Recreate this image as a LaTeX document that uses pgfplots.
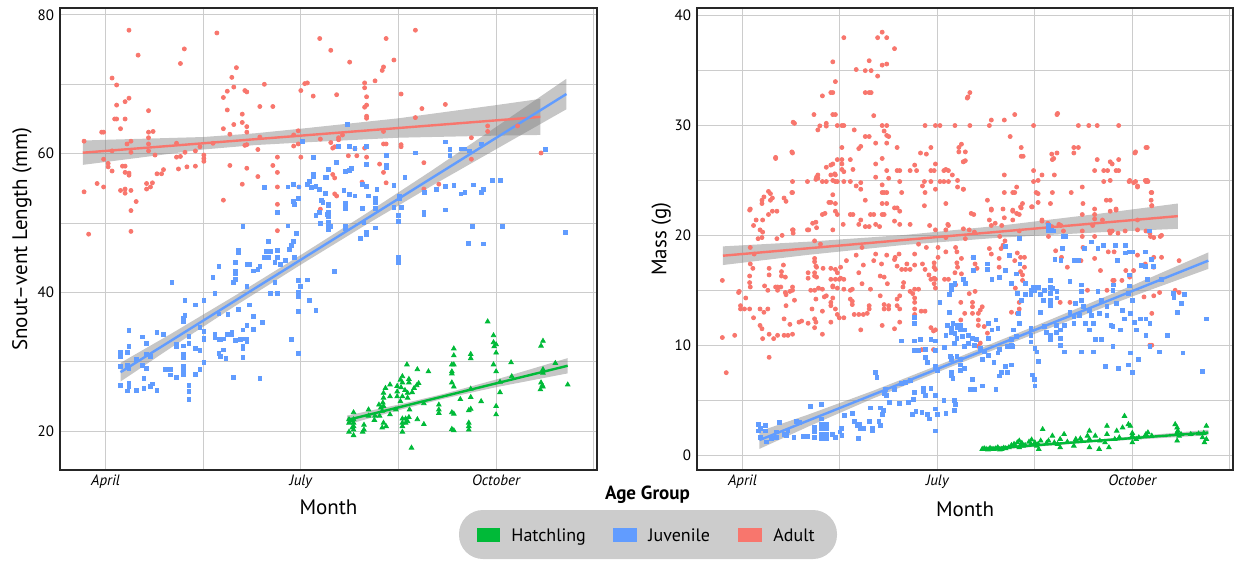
\documentclass[border=0pt]{standalone}
\usepackage{pgfplots}
\pgfplotsset{compat=1.18}
\usepackage{fontspec}
\setmainfont{PT Sans}
\definecolor{cAd}{HTML}{F8766D}
\definecolor{cJu}{HTML}{619CFF}
\definecolor{cHa}{HTML}{00BA38}
\pgfplotsset{
  myaxis/.style={
    scale only axis, anchor=south west,
    xmin=3.3, xmax=11.55,
    xtick={4,7,10}, xticklabels={April,July,October},
    minor xtick={5.5,8.5,11.5},
    grid=both,
    major grid style={gray!40, line width=0.5pt},
    minor grid style={gray!40, line width=0.5pt},
    tick style={draw=none},
    axis line style={line width=1pt, black!85},
    /pgf/number format/assume math mode=true,
    yticklabel style={font=\fontsize{7.5}{8.5}\selectfont, xshift=0.5pt},
    xticklabel style={font=\fontsize{7.5}{8.5}\selectfont\itshape, yshift=1pt},
    xlabel style={font=\fontsize{10.5}{12}\selectfont},
    ylabel style={font=\fontsize{10.5}{12}\selectfont},
    clip=true,
  },
  ad/.style={only marks, mark=*, mark size=1pt, color=cAd, mark options={draw=none, fill=cAd}},
  ju/.style={only marks, mark=square*, mark size=0.95pt, color=cJu, mark options={draw=none, fill=cJu}},
  ha/.style={only marks, mark=triangle*, mark size=1.3pt, color=cHa, mark options={draw=none, fill=cHa}},
  band/.style={fill=gray, fill opacity=0.45, draw=none},
}
\begin{document}
\begin{tikzpicture}
\path[use as bounding box] (0pt,0pt) rectangle (617.5pt,-280.5pt);
% ---------------- Left panel ----------------
\begin{axis}[myaxis, at={(30pt,-235pt)}, width=268.5pt, height=231pt,
  ymin=14.4, ymax=81,
  ytick={20,40,60,80}, minor ytick={30,50,70},
  xlabel={Month}, ylabel={Snout--vent Length (mm)},
  xlabel style={at={(axis description cs:0.5,-0.08)}, anchor=center},
  ylabel style={at={(axis description cs:-0.0708,0.5)}, anchor=center},
]
\addplot[ad] coordinates {
(4.36,77.8)(4.50,74.2)(5.21,75.1)(5.15,73.0)(4.10,70.9)(4.17,69.9)(4.36,68.0)(4.30,67.5)(4.17,67.0)(4.66,66.2)(4.14,65.0)(4.17,65.0)(4.30,65.0)(4.23,63.6)(3.94,63.1)(3.97,63.1)(4.66,63.1)(4.73,63.2)(3.67,61.8)(4.39,61.8)(4.33,61.4)(4.66,62.3)(4.66,61.4)(4.66,60.4)(5.09,61.5)(4.10,60.4)(4.39,60.2)(3.97,59.2)(4.76,59.8)(4.04,58.6)(4.04,58.1)(4.10,57.5)(4.26,58.2)(4.30,58.2)(4.36,57.2)(4.36,56.9)(4.30,57.3)(3.87,55.7)(3.97,55.2)(3.67,54.5)(4.23,54.7)(4.30,54.9)(4.39,54.7)(4.30,54.3)(4.47,53.1)(4.63,55.7)(4.72,55.8)(4.69,55.2)(4.63,54.9)(4.79,57.1)(4.86,57.1)(4.89,57.7)(5.09,59.5)(5.15,59.6)(5.22,60.2)(5.38,60.4)(5.51,59.8)(5.51,59.3)(5.51,58.9)(5.45,61.0)(5.12,57.8)(5.25,58.1)(5.38,58.2)(5.65,61.5)(5.71,77.4)(6.01,72.4)(5.94,71.0)(5.97,69.6)(5.87,69.0)(5.81,68.1)(5.87,66.3)(6.10,65.7)(6.10,64.5)(5.97,64.2)(6.17,63.9)(6.17,63.1)(5.81,63.6)(5.91,62.8)(6.14,69.1)(6.17,68.9)(6.44,70.0)(6.37,66.8)(6.57,66.8)(6.37,62.4)(6.14,61.2)(6.17,61.3)(6.34,60.6)(6.64,59.5)(6.57,58.3)(6.64,57.3)(5.91,58.3)(6.17,57.9)(6.34,56.7)(6.10,55.6)(6.64,55.2)(5.81,53.3)(6.64,52.7)(6.89,62.7)(6.96,63.3)(6.89,61.1)(6.96,61.4)(7.00,69.1)(7.06,70.1)(7.10,70.2)(7.19,68.3)(7.29,76.6)(7.00,59.5)(6.97,55.2)
(7.46,74.9)(7.75,73.2)(8.31,76.6)(8.76,77.8)(8.43,73.5)(8.27,72.5)(8.25,72.0)(8.14,70.5)(7.98,70.2)(7.98,69.5)(7.55,68.5)(8.01,68.2)(7.98,66.7)(8.01,67.0)(8.01,65.4)(8.01,65.1)(8.54,68.6)(8.86,66.5)(8.76,65.2)(9.22,67.1)(8.27,63.2)(7.30,62.1)(7.58,62.3)(7.58,62.0)(7.64,62.7)(7.46,61.6)(7.52,61.0)(7.49,60.8)(7.83,60.7)(7.98,60.8)(8.27,61.4)(8.31,61.4)(8.54,61.3)(8.54,61.0)(7.73,59.7)(7.86,59.7)(8.01,59.5)(8.21,58.5)(8.89,58.7)(7.49,57.0)(7.52,56.5)(8.27,57.3)(7.94,55.9)(8.31,55.8)(9.12,55.6)(8.89,54.9)(7.52,54.2)(7.55,53.9)(9.62,62.3)(9.87,64.0)(9.87,63.2)(10.33,64.0)(9.62,59.2)(10.69,60.1)
(4.39,51.8)(4.39,48.8)(3.74,48.4)(6.64,48.9)(7.30,52.0)
};
\addplot[ju] coordinates {
(7.03,61.8)(7.19,59.5)(7.42,57.7)(7.38,56.6)(7.19,57.0)(7.19,56.7)(7.13,56.0)(7.16,55.1)(7.10,55.6)(7.23,55.3)(7.29,54.8)(7.38,54.3)(6.44,55.1)(6.80,55.2)(6.89,55.6)(6.97,55.2)(6.89,53.1)(6.96,53.5)(7.42,52.7)(7.32,53.3)
(7.72,64.2)(7.58,61.1)(7.75,61.1)(7.83,60.8)(8.01,61.1)(8.31,59.7)(8.76,60.1)(9.22,61.7)(9.29,60.6)(9.29,59.7)(9.46,60.7)(9.52,60.7)(9.59,60.4)(9.78,61.4)(10.76,60.6)(7.55,58.7)(7.68,57.4)(7.75,57.6)(7.78,57.9)(8.01,58.4)(8.31,58.3)(8.31,58.0)(7.39,56.6)(7.94,55.6)(8.01,55.3)(8.17,54.8)(8.43,55.4)(8.60,56.6)(8.90,54.4)(9.08,54.9)(9.22,55.3)(9.35,55.4)(9.46,54.2)(9.52,54.4)(9.65,55.5)(9.78,54.4)(9.81,54.8)(9.94,56.1)(10.07,56.2)(7.66,54.7)(7.83,53.9)(7.75,54.1)(8.04,53.9)(8.14,53.6)(8.52,53.8)(8.52,53.5)(7.68,52.9)
(6.90,52.7)(7.34,53.0)(7.42,52.5)(7.42,51.5)(7.42,51.0)(7.29,51.5)(7.23,51.1)(7.30,50.0)(7.42,50.1)(7.45,49.5)(7.42,49.1)(6.11,49.5)(6.80,49.6)(6.93,48.5)(6.64,51.5)(6.50,47.3)(6.88,47.3)(6.85,46.8)(6.83,46.2)(6.04,46.0)(6.04,45.7)(6.64,46.1)(6.64,45.1)(6.47,45.9)(6.53,45.9)(6.44,45.1)(6.50,45.1)(6.60,44.3)(6.68,44.0)(6.76,44.6)(6.90,45.0)(6.00,44.3)(6.17,44.0)(6.21,44.0)(6.27,43.1)(6.34,43.3)(6.37,43.7)(6.00,43.0)(6.00,42.7)(5.74,43.8)(5.65,42.2)(5.97,41.4)(6.00,41.9)(6.17,40.9)(6.60,41.5)(6.96,41.7)(7.10,41.8)(6.99,40.9)(6.96,40.0)(6.96,39.4)(6.53,39.9)(6.64,39.9)(5.68,39.9)(5.02,41.5)(7.13,38.9)(7.23,37.4)(6.96,37.3)(6.04,37.5)(6.21,38.2)(6.27,36.6)(5.22,38.8)(5.38,38.2)(5.51,38.8)(5.74,36.9)(5.88,36.8)(5.20,36.3)(5.20,35.8)(5.22,36.7)(6.41,35.7)(6.17,35.2)(6.27,34.7)(6.11,34.6)(5.45,34.9)(5.51,34.4)(5.51,33.4)(5.51,33.2)(5.28,33.7)(5.28,32.7)(5.68,34.0)(5.68,33.5)(5.74,33.2)(5.81,33.3)(5.77,33.2)(5.87,34.0)(5.94,34.3)(5.94,34.0)(6.00,33.1)(6.07,33.2)(6.11,33.3)(6.17,33.3)(6.17,32.9)(6.11,32.2)(6.11,31.9)(5.81,31.7)(5.74,31.2)(5.77,30.8)(5.85,30.5)(6.11,30.6)(6.85,33.2)(6.96,31.2)(5.09,32.5)(5.09,32.2)(5.20,32.3)(5.38,31.9)(5.45,31.6)(5.20,31.1)(5.20,30.6)(5.51,29.9)(5.45,28.9)(5.20,29.4)(5.20,28.8)(5.20,28.1)(5.38,28.2)(5.28,26.6)(5.28,25.7)(5.28,24.6)(5.09,27.7)(4.99,28.9)(4.99,28.1)(4.92,28.9)(5.97,27.7)(6.37,27.6)(4.79,34.2)(4.89,34.0)(4.56,33.6)(4.63,32.6)(4.36,34.5)(4.36,32.2)(4.23,31.4)(4.23,30.7)(4.33,31.4)(4.47,30.3)(4.63,31.1)(4.69,30.8)(4.66,31.0)(4.56,29.5)(4.63,29.1)(4.23,29.3)(4.33,29.5)(4.36,29.1)(4.23,26.6)(4.36,26.9)(4.36,26.5)(4.59,27.6)(4.47,25.9)(4.33,25.8)(4.59,26.2)(4.69,26.4)(4.72,26.8)(4.79,25.9)
(7.41,51.3)(7.42,50.1)(7.42,49.4)(7.69,52.7)(7.69,52.1)(7.95,52.1)(8.14,52.1)(8.14,53.0)(8.43,52.2)(8.50,51.1)(8.50,50.2)(8.55,52.2)(8.89,51.6)(8.89,51.3)(9.22,51.9)(9.64,49.5)(10.10,49.5)(11.07,48.7)(9.58,47.1)(9.80,47.0)(8.50,45.0)(8.50,44.3)(7.52,43.0)(7.92,47.8)(8.01,48.7)(8.01,48.4)(8.14,49.3)(7.97,50.1)(7.69,49.5)(7.69,49.2)
};
\addplot[ha] coordinates {
(9.87,35.8)(9.96,33.8)(9.96,32.8)(10.00,32.5)(9.97,32.2)(10.00,31.3)(9.96,29.6)(10.00,28.6)(10.69,32.3)(10.72,33.0)(10.23,29.9)(10.91,29.8)(10.72,28.9)(10.72,28.4)(10.69,27.0)(10.71,26.6)(10.72,26.4)(10.68,26.0)(11.10,26.7)(10.06,27.1)(10.06,25.6)(10.24,27.9)(10.00,23.6)(10.00,22.4)(9.35,31.9)(9.35,30.9)(9.32,29.6)(9.35,29.6)(9.32,28.6)(9.32,28.3)(9.32,27.0)(9.35,26.4)(9.61,31.1)(9.61,30.5)(9.61,26.1)(9.61,24.9)(9.45,24.6)(9.77,24.3)(9.58,23.0)(9.61,23.2)(9.58,21.2)(9.58,20.7)(9.58,20.2)(9.32,22.7)(9.35,22.5)(9.32,20.3)(9.35,20.1)(9.12,23.8)(9.12,23.1)(9.12,22.6)(8.96,28.6)(8.79,28.9)(8.63,29.6)(8.89,24.0)(8.89,21.0)(8.79,21.7)(8.70,17.6)(8.67,23.1)(8.81,26.9)(8.78,26.6)(8.74,26.2)(8.71,25.6)(8.66,27.5)(8.66,27.0)(8.64,25.5)(8.64,24.8)(8.60,25.9)(8.56,27.0)(8.56,27.9)(8.53,27.4)(8.54,26.3)(8.61,21.8)(8.61,21.2)(8.64,21.4)(8.56,21.8)(8.56,21.2)(8.56,20.7)(8.56,19.9)(8.66,22.0)(8.48,26.5)(8.48,25.7)(8.48,25.0)(8.46,23.1)(8.53,24.3)(8.56,25.0)(8.37,26.7)(8.30,26.2)(8.27,25.5)(8.37,25.0)(8.27,24.8)(8.26,24.1)(8.23,23.4)(8.25,22.9)(8.27,23.6)(8.37,22.4)(8.27,21.2)(8.25,20.5)(8.31,20.7)(8.21,22.2)(8.13,21.6)(8.04,23.1)(7.97,20.9)(7.97,20.2)(7.95,19.9)(7.81,22.7)(7.81,21.7)(7.81,21.2)(7.81,20.7)(7.81,20.2)(7.81,19.4)(7.77,21.5)(7.74,21.7)(7.74,21.2)(7.74,19.9)(7.79,20.5)(8.04,22.2)(8.14,22.2)(8.20,23.8)
};
% bands
\addplot[band] coordinates {(3.65,61.89)(4,62.0)(5.5,62.4)(6.3,62.94)(7,63.6)(8.5,65.1)(10,67.0)(10.68,67.9)(10.68,62.7)(10,62.6)(8.5,62.3)(7,61.6)(6.3,61.24)(5.5,60.6)(4,58.8)(3.65,58.39)} -- cycle;
\addplot[band] coordinates {(4.23,29.85)(5,34.0)(6,39.6)(7,45.4)(8,51.35)(9,57.5)(10,63.85)(11.08,70.8)(11.08,66.4)(10,60.65)(9,55.3)(8,49.75)(7,44.0)(6,38.1)(5,32.0)(4.23,27.15)} -- cycle;
\addplot[band] coordinates {(7.71,22.25)(8.5,23.82)(9.2,25.39)(10,27.44)(11.1,30.53)(11.1,28.33)(10,26.34)(9.2,24.69)(8.5,23.02)(7.71,20.95)} -- cycle;
% fitted lines
\addplot[cAd, line width=1.2pt] coordinates {(3.65,60.14)(10.68,65.3)};
\addplot[cJu, line width=1.2pt] coordinates {(4.23,28.5)(11.08,68.6)};
\addplot[cHa, line width=1.2pt] coordinates {(7.71,21.6)(11.1,29.43)};
\end{axis}
% ---------------- Right panel ----------------
\begin{axis}[myaxis, at={(348.5pt,-235pt)}, width=268pt, height=231pt,
  ymin=-1.36, ymax=40.7,
  ytick={0,10,20,30,40}, minor ytick={5,15,25,35},
  xlabel={Month}, ylabel={Mass (g)},
  xlabel style={at={(axis description cs:0.5,-0.084)}, anchor=center},
  ylabel style={at={(axis description cs:-0.067,0.5)}, anchor=center},
]
\addplot[ad] coordinates {
(6.15,38.5)(6.08,38.0)(6.22,38.0)(5.56,38.0)(6.34,37.0)(5.39,35.8)(5.75,35.1)(5.89,35.0)(5.98,35.0)(5.95,35.9)(6.15,35.5)(6.22,35.6)(6.08,34.5)(5.43,34.0)(5.36,33.0)(5.39,33.0)(5.89,33.0)(5.95,33.0)(5.98,33.0)(5.23,32.7)(5.10,31.0)(5.39,31.0)(5.43,31.0)(6.02,30.9)(4.80,30.2)(5.29,30.2)(5.29,29.95)(5.19,29.97)(5.16,29.6)(5.46,30.0)(5.53,30.0)(5.56,30.0)(6.15,30.0)(6.22,30.0)(5.72,29.6)(5.89,29.0)(5.95,29.0)(6.18,29.5)(6.22,29.1)(6.25,29.0)(6.05,28.4)(6.22,28.4)(5.82,28.1)(5.79,27.9)(6.38,28.0)(5.53,28.0)(4.77,27.5)(4.51,27.0)(6.15,27.0)(5.46,26.9)(5.53,26.9)(5.39,26.5)(5.66,26.9)(5.36,26.4)(5.29,26.2)(5.53,26.5)(5.53,26.0)(6.05,26.5)(5.70,26.0)(5.43,25.5)(5.36,25.5)(5.56,25.8)(5.16,25.5)(5.14,25.3)(5.13,25.1)(5.16,25.2)(5.00,24.9)(5.23,24.9)(5.29,24.9)(5.43,24.9)(5.46,24.9)(5.56,24.9)(5.66,24.9)(4.77,24.9)(4.77,23.9)(5.75,24.5)(5.82,24.8)(5.82,24.2)(5.89,23.2)(6.15,24.6)(6.15,23.9)(6.18,23.9)(6.22,23.9)(6.22,22.9)(6.15,22.9)(6.05,25.3)(6.22,25.9)(6.38,25.9)(6.42,25.9)(6.25,25.2)(6.42,24.9)(6.45,23.9)(6.38,22.5)(6.42,22.2)(6.34,22.5)(6.58,25.9)(6.65,26.4)(6.68,25.9)(6.74,27.5)(6.90,28.0)(6.81,30.0)(6.97,30.0)(7.04,30.0)(7.27,30.0)(7.33,28.0)(7.33,27.6)(7.40,26.7)(7.10,25.9)(7.13,26.0)(7.17,25.9)(7.23,25.5)(7.40,24.2)(7.46,32.5)(6.97,26.5)(6.90,25.9)(6.80,24.9)(6.90,24.9)(7.04,24.9)(7.10,24.9)(7.17,24.9)(6.77,24.5)(6.81,23.9)(6.97,24.2)(7.13,22.9)(6.80,22.7)(5.97,21.9)(6.02,21.9)(6.15,21.9)(6.18,21.9)(5.82,21.4)(5.66,21.9)(5.70,21.9)(5.43,22.9)(5.43,22.2)(5.46,21.9)(5.39,23.7)(5.36,23.0)(5.23,21.9)(5.13,21.2)(5.00,20.5)(5.14,20.7)(5.39,20.5)(5.55,21.0)(5.79,21.0)(5.89,20.8)(5.95,20.8)(6.05,21.0)(6.11,20.8)(6.34,21.3)(6.42,21.0)(6.58,21.0)(6.88,20.9)(6.97,20.5)(7.17,20.9)(4.77,20.5)(4.40,24.0)(4.46,23.4)(4.43,23.2)(4.30,22.9)(4.64,23.4)(4.67,23.1)(4.11,22.3)(4.53,22.2)(4.46,22.2)(4.40,21.9)(4.31,21.4)(4.17,20.9)(4.31,20.3)(4.24,19.7)(4.30,19.8)(4.53,19.7)(4.61,20.0)
(7.50,33.0)(7.47,32.6)(7.50,30.0)(7.80,30.0)(7.83,30.5)(8.03,30.5)(8.19,31.0)(8.84,31.0)(8.12,29.0)(8.48,30.0)(9.17,30.0)(9.33,30.0)(9.46,30.0)(9.79,30.0)(8.29,28.0)(8.29,27.2)(8.32,27.2)(8.84,27.5)(8.77,26.9)(9.10,28.0)(9.17,28.0)(9.10,27.5)(9.46,26.9)(9.66,26.7)(9.69,26.5)(9.79,26.9)(9.42,25.9)(9.56,25.9)(9.62,25.9)(9.75,25.9)(9.79,25.9)(10.04,27.5)(10.21,28.0)(8.03,25.5)(8.48,25.9)(8.48,24.9)(8.80,25.5)(7.40,26.7)(7.40,24.2)(9.56,24.9)(9.95,24.9)(10.05,24.9)(10.21,24.9)(10.24,24.9)(10.08,24.4)(9.23,24.4)(10.30,23.9)(8.03,23.9)(8.19,23.9)(8.55,23.8)(8.77,23.9)(8.74,22.9)(9.66,23.2)(10.30,22.7)(7.83,22.4)(8.45,22.6)(8.29,22.5)(8.16,22.2)(8.26,21.9)(8.03,21.6)(9.42,22.4)(9.42,21.9)(9.66,22.2)(9.75,22.4)(9.23,21.9)(7.56,21.9)(7.40,20.6)(7.57,20.3)(7.83,20.9)(7.99,20.9)(8.61,21.3)(8.87,21.0)(8.90,20.9)(8.26,20.4)(8.94,20.4)(9.23,20.4)(9.39,20.9)(9.65,20.4)(9.69,20.4)(9.89,20.4)(10.21,20.4)(10.28,19.9)(10.43,19.9)(8.71,19.9)(9.23,19.9)(9.42,19.9)(7.96,19.9)
(3.69,15.9)(3.95,14.9)(3.69,10.7)(3.88,10.9)(3.75,7.5)(4.41,8.9)(3.97,13.3)(4.03,13.3)(4.11,13.3)(3.97,13.6)(4.05,14.3)(4.11,15.7)(4.11,16.3)(4.16,17.0)(4.17,12.5)(4.27,13.3)(4.33,13.0)(4.39,13.3)(4.27,11.8)(4.30,11.5)(4.31,10.6)(4.41,11.0)(4.48,10.6)(4.54,10.9)(4.64,10.9)(4.70,10.9)(4.77,11.0)(4.64,12.4)(4.34,15.4)(4.39,15.0)(4.41,16.4)(4.41,17.0)(4.54,15.3)(4.54,15.0)(4.59,15.3)(4.60,16.7)(4.60,16.3)(4.67,14.6)(4.67,13.6)(4.80,14.1)(4.73,14.9)(4.77,15.3)(4.77,15.0)(4.73,11.9)(4.87,12.1)(4.91,12.2)(5.01,16.6)(5.01,16.1)(5.11,17.6)(5.13,17.2)(5.11,16.6)(5.11,16.3)(5.05,15.0)(5.11,15.0)(5.17,15.2)(5.13,14.2)(5.07,13.3)(5.01,12.0)(5.11,12.4)(5.13,12.1)(5.11,11.6)(5.24,17.0)(5.23,15.1)(5.26,14.4)(5.29,14.5)(5.23,13.1)(5.23,11.0)(5.36,17.0)(5.43,16.9)(5.46,16.6)(5.36,16.0)(5.43,16.0)(5.49,16.0)(5.56,16.0)(5.39,15.4)(5.46,15.2)(5.56,15.1)(5.39,14.3)(5.36,13.9)(5.43,13.3)(5.36,13.6)(5.46,12.8)(5.49,12.5)(5.56,12.5)(5.36,12.1)(5.66,14.2)(5.69,14.0)(5.69,13.7)(5.69,15.1)(5.79,16.6)(5.86,17.3)(5.72,12.8)(5.79,12.8)(5.86,12.8)(5.92,12.9)(5.82,11.4)(5.95,13.3)(5.95,13.6)(5.97,15.1)(6.12,16.3)(6.18,16.2)(6.22,18.2)(6.12,14.5)(6.18,13.7)(6.25,13.6)(6.18,13.3)(6.25,13.3)(6.15,11.8)(6.34,17.8)(6.38,17.2)(6.38,14.2)(6.42,14.5)(6.38,13.6)(6.42,13.3)(6.34,11.5)(6.42,12.1)(6.45,16.9)(6.51,16.9)(6.48,15.7)(6.58,16.9)(6.65,17.3)(6.58,14.9)(6.65,15.1)(6.71,15.1)(6.65,14.3)(6.65,13.9)(6.65,13.3)(6.65,12.8)(6.75,13.1)(6.81,13.1)(6.81,16.9)(6.87,16.4)(6.90,16.0)(6.97,16.0)(6.95,17.5)(6.97,16.9)(6.95,15.6)(6.97,15.2)(7.11,16.0)(7.17,16.0)(7.27,16.6)(7.13,18.5)(7.30,18.5)(6.90,11.6)(6.94,11.3)(7.30,17.5)
(7.66,13.2)(7.63,11.8)(7.72,11.7)(7.77,11.1)(7.66,10.2)(8.14,13.0)(8.23,12.9)(8.26,13.9)(8.20,15.2)(8.23,14.7)(8.89,13.9)(9.04,13.9)(9.31,15.0)(9.61,15.0)(9.70,15.9)(10.18,14.4)(10.27,10.0)(10.30,10.0)(10.66,15.0)(10.42,14.8)(10.30,12.9)(7.54,13.9)(7.54,13.5)(7.69,13.5)(7.42,12.9)(7.54,12.9)(7.63,12.9)(7.63,12.3)(7.36,12.3)(7.36,13.9)(6.97,11.4)(6.94,9.6)(6.76,9.6)(7.63,9.9)(8.26,13.3)
(7.01,18.9)(7.13,19.8)(7.13,20.5)(7.16,21.0)(7.01,18.0)(6.95,17.1)(6.95,16.1)(7.28,18.9)(7.37,17.9)(7.31,17.1)(7.37,16.5)(7.28,15.5)(7.43,19.7)(7.49,20.5)(7.55,18.0)(7.58,17.4)(7.61,17.0)(7.58,14.9)(7.49,14.7)(7.52,22.0)(7.80,18.8)(7.83,18.3)(7.95,17.9)(7.95,17.1)(7.98,18.8)(8.01,19.1)(8.04,19.5)(8.19,17.7)(8.23,18.4)(8.28,18.0)(8.34,18.0)(8.34,17.1)(8.22,22.0)(8.28,22.6)(8.31,22.9)(8.28,16.7)(8.31,16.4)(8.31,15.9)(8.22,24.4)(8.16,23.9)(8.46,22.6)(8.55,23.0)(8.01,22.4)(8.16,22.3)(8.16,21.4)(8.61,21.4)(8.70,21.1)(8.76,20.8)(8.82,18.6)(8.91,18.0)(9.00,17.1)(9.24,18.9)(9.21,17.7)(9.42,17.9)(9.06,23.9)(9.24,22.9)(9.42,21.5)(9.54,21.4)(9.63,18.5)(9.72,18.5)(9.66,20.2)(9.78,20.2)(9.51,16.8)(9.90,16.8)(9.96,16.2)(10.02,16.8)(9.72,15.9)(9.84,15.9)(10.08,18.2)(10.20,17.4)(10.33,18.0)(10.33,19.8)(10.45,20.0)(10.33,17.1)(10.33,14.5)(10.45,18.0)(10.72,17.7)(10.72,14.8)(10.08,20.5)(10.08,21.4)(10.27,20.2)(10.02,24.8)(10.29,23.2)(10.30,22.7)(10.20,25.0)(10.23,25.0)(10.05,27.6)(10.23,28.0)(9.96,25.0)(10.08,24.5)(10.29,23.9)(9.75,22.3)(9.60,23.2)(9.66,25.0)(8.52,23.9)(8.61,25.5)(8.55,25.0)(8.76,27.4)(8.79,27.0)(8.85,31.1)(7.43,27.6)(7.37,28.3)(6.83,27.4)(6.95,25.9)(7.31,25.0)(7.31,24.4)(7.43,26.8)(7.77,23.2)(7.83,22.3)(7.80,21.4)(7.89,21.1)
(4.12,22.4)(4.21,21.4)(4.27,20.5)(4.12,18.9)(4.18,18.3)(4.12,17.4)(4.30,23.2)(4.33,23.5)(4.43,23.8)(4.51,27.1)(4.78,30.3)(4.76,27.6)(4.76,23.9)(4.78,20.5)(4.78,20.2)(4.63,17.3)(4.66,16.2)(5.02,20.5)(5.08,21.1)(5.11,19.5)(5.20,19.2)(5.11,17.9)(5.14,17.1)(5.14,16.2)(5.27,22.0)(5.33,23.0)(5.39,25.0)(5.42,25.6)(5.51,17.1)(5.51,16.1)(5.60,17.7)(5.75,18.2)(5.84,18.9)(6.02,17.7)(6.05,18.3)(6.14,17.4)(6.35,18.0)(6.41,18.3)(6.53,17.4)(6.65,18.3)(6.71,19.2)(6.83,18.9)(6.77,17.4)(3.94,14.8)(4.12,15.3)(4.51,15.3)(4.66,14.8)(5.39,15.3)(5.66,15.0)(5.84,15.6)(6.23,15.6)(6.47,15.3)(6.62,14.7)
};
\addplot[ju] coordinates {
(7.25,15.5)(7.21,15.1)(7.18,14.6)(7.40,16.0)(7.04,13.9)(6.65,12.5)(6.65,12.0)(6.45,10.4)(6.65,10.4)(6.74,10.5)(6.90,10.5)(6.97,10.4)(6.65,9.5)(6.71,9.5)(6.81,9.6)(6.97,9.5)(7.11,9.8)(7.16,11.8)(7.21,11.5)(7.21,11.2)(7.30,11.6)(7.36,11.8)(7.13,10.9)(7.26,10.2)(7.20,9.0)(7.22,8.7)(7.36,8.7)(6.82,8.9)(6.85,8.4)(6.97,8.1)(7.00,7.7)(7.22,7.2)(7.36,7.7)(6.05,7.5)(6.07,7.1)(6.45,6.5)(6.51,6.6)(6.59,6.8)(6.65,5.7)(6.81,5.4)(6.90,6.1)(6.97,5.4)(6.78,6.1)(6.78,5.8)(6.34,6.0)(6.18,5.6)(6.21,5.4)(6.26,4.8)(6.20,6.0)(5.97,4.3)(6.12,4.3)(6.15,3.7)(6.10,3.1)(6.12,2.7)(5.95,3.1)(6.00,2.4)(5.80,2.8)(5.86,2.4)(6.00,2.2)(5.69,3.8)(5.72,3.1)(5.76,2.7)(5.82,2.4)(5.79,1.5)(5.57,3.6)(5.52,2.4)(5.50,2.1)(5.53,1.8)(5.43,1.6)(5.39,1.9)(5.29,2.8)(5.29,2.4)(5.29,1.9)(5.29,1.5)(5.21,3.3)(5.21,2.8)(5.21,2.4)(5.21,1.9)(5.21,1.5)(5.22,4.6)(5.11,2.5)(5.11,2.1)(5.11,1.6)(5.04,4.4)(5.00,1.7)(4.94,1.7)(4.88,3.0)(4.83,3.1)(4.79,1.6)(4.70,2.2)(4.67,1.8)(4.64,1.9)(4.57,3.0)(4.52,2.1)(4.52,1.6)(4.45,1.5)(4.35,2.7)(4.35,2.2)(4.24,2.8)(4.27,2.4)(4.24,2.2)(4.27,1.6)(4.37,1.2)(6.17,4.1)(6.42,4.7)(6.55,4.8)(6.63,5.1)(6.67,4.0)(6.76,3.9)(6.61,3.7)(6.85,3.7)(6.88,3.3)(6.97,4.2)(7.00,3.7)(6.97,2.2)(7.10,5.0)(7.13,3.8)(7.26,5.0)(7.28,4.6)(7.26,4.1)
(8.74,15.9)(8.74,15.3)(8.74,14.7)(8.74,14.1)(8.74,13.6)(8.65,15.0)(8.50,15.0)(8.44,15.0)(8.59,13.0)(8.63,14.1)(8.23,14.7)(8.29,14.1)(8.25,12.9)(8.17,11.4)(8.21,10.8)(8.15,9.9)(8.14,8.2)(8.08,7.5)(8.44,11.5)(8.44,10.9)(8.44,10.3)(8.50,9.7)(8.53,9.4)(8.56,8.5)(8.46,7.3)(8.49,6.9)(8.50,6.3)(8.65,11.7)(8.68,11.2)(8.74,10.9)(8.74,10.5)(8.83,11.8)(8.83,11.2)(8.89,11.4)(8.95,11.8)(8.89,10.6)(8.89,10.0)(8.95,9.4)(9.04,13.0)(9.10,12.6)(9.10,12.0)(9.19,12.7)(9.22,15.5)(9.13,13.8)(9.25,13.5)(9.34,13.2)(9.37,12.7)(9.22,9.4)(9.40,9.4)(9.28,12.0)(9.34,11.4)(9.40,12.0)(9.52,14.1)(9.61,13.5)(9.49,12.9)(9.61,12.7)(9.70,15.0)(9.76,13.8)(9.85,13.2)(9.88,12.4)(9.82,11.4)(9.70,11.7)(9.52,10.5)(9.43,10.5)(9.58,8.1)(9.79,7.9)(9.70,9.9)(9.67,11.8)(9.94,14.7)(10.00,14.1)(9.97,12.9)(10.03,12.1)(10.06,11.4)(10.12,12.4)(9.97,9.3)(10.00,7.5)(9.94,8.2)(10.09,8.7)(10.21,12.4)(10.27,12.0)(10.21,10.9)(10.27,9.9)(10.42,9.4)(10.54,10.9)(10.63,14.7)(10.69,13.0)(10.75,13.8)(10.78,9.3)(11.08,7.6)(11.14,12.4)(8.14,10.0)(8.14,10.5)(8.26,12.0)(8.14,15.6)
(7.18,13.0)(7.24,12.0)(7.30,11.8)(7.36,11.4)(7.42,11.4)(7.21,11.4)(7.27,11.1)(7.30,10.6)(7.39,10.8)(7.48,10.9)(7.54,10.6)(7.60,10.5)(7.42,9.9)(7.48,10.2)(7.57,10.0)(7.66,9.7)(7.72,9.4)(7.78,9.1)(7.30,9.0)(7.21,8.8)(7.36,8.2)(7.42,7.9)(7.21,7.5)(7.24,7.0)(7.54,6.9)(7.51,6.0)(7.57,6.0)(7.69,6.3)(7.90,6.0)(7.96,7.2)(7.99,7.5)(7.93,9.3)(7.87,8.4)(8.05,8.1)(7.96,9.6)(8.08,9.9)(8.14,10.0)(7.69,8.7)(7.78,10.6)(7.84,11.4)(7.90,12.3)(7.93,11.5)(7.78,12.0)
(8.71,20.5)(8.76,20.5)(8.97,19.9)(8.27,19.7)(8.93,18.8)(8.81,17.8)(8.90,17.7)(9.10,17.7)(9.17,17.7)(9.26,18.8)(9.37,19.4)(9.47,18.8)(9.55,19.1)(9.74,19.1)(9.89,19.1)(9.77,17.7)(9.89,18.4)(9.95,18.5)(10.01,18.5)(10.20,18.5)(10.26,20.4)(10.29,17.8)(10.14,17.3)(10.20,17.2)(10.32,17.2)(9.04,15.8)(9.22,14.9)(9.47,14.9)(9.71,15.5)(9.95,15.4)(9.95,16.4)(10.23,16.0)(10.45,16.0)(8.77,15.2)(8.84,14.9)(8.84,14.3)(8.59,14.6)(8.44,14.6)(8.35,14.6)(9.22,14.1)(9.53,14.1)(10.64,14.3)(10.80,14.6)(7.21,15.5)(7.27,15.6)(7.55,16.8)(7.55,18.0)(7.77,17.4)(7.77,16.9)(7.84,16.0)(8.05,19.0)(8.11,18.2)(8.27,17.4)(8.36,15.6)(8.48,15.3)(8.56,15.3)(7.96,16.2)(8.05,16.8)(8.21,16.5)(7.40,16.0)(7.43,15.6)
(8.71,20.9)(8.78,20.4)(8.71,20.4)(8.94,19.9)(10.27,20.4)(8.26,19.7)
};
\addplot[ha] coordinates {
(7.69,0.54)(7.75,0.54)(7.81,0.63)(7.87,0.54)(7.93,0.69)(7.99,0.54)(8.05,0.6)(8.14,0.9)(8.2,0.84)(8.23,1.14)(8.26,1.3)(8.29,0.99)(8.32,0.84)(8.26,0.69)(8.41,1.2)(8.44,0.99)(8.5,1.14)(8.53,0.84)(8.56,0.54)(8.59,1.3)(8.62,2.35)(8.71,1.3)(8.77,1.75)(8.8,1.14)(8.89,1.45)(8.89,0.69)(8.95,1.9)(9.1,0.84)(9.13,1.45)(9.22,1.3)(9.31,1.75)(9.34,2.2)(9.34,1.45)(9.34,0.69)(9.43,1.75)(9.49,0.54)(9.58,1.14)(9.61,2.65)(9.61,1.9)(9.64,0.69)(9.73,1.45)(9.76,2.2)(9.85,2.5)(9.88,3.55)(9.94,2.8)(9.97,2.65)(10.0,1.14)(10.0,1.75)(10.06,1.45)(10.21,1.9)(10.24,2.05)(10.3,1.75)(10.66,2.8)(10.69,2.5)(10.69,2.05)(10.72,1.75)(10.69,1.3)(10.9,1.9)(11.02,1.95)(11.14,2.65)(11.14,1.45)(11.11,1.14)(11.08,1.6)
(7.72,0.6)(7.78,0.5)(7.84,0.55)(7.9,0.6)(7.96,0.5)(8.02,0.65)(8.1,0.7)(8.18,1.0)(8.3,1.1)(8.35,0.9)(8.45,1.4)(8.55,1.0)(8.68,1.1)(8.85,1.0)(9.0,1.2)(9.2,1.5)(9.5,1.3)(9.8,1.6)(10.0,2.0)(10.1,1.6)(10.7,2.2)(10.75,1.9)(11.1,2.0)
};
% bands
\addplot[band] coordinates {(3.7,19.0)(5,19.42)(6.5,20.04)(8,20.91)(9.5,21.98)(10.7,22.9)(10.7,20.6)(9.5,20.28)(8,19.81)(6.5,19.14)(5,18.22)(3.7,17.3)} -- cycle;
\addplot[band] coordinates {(4.26,2.16)(5,3.66)(6,5.83)(7.3,8.85)(8.5,11.74)(10,15.44)(11.17,18.45)(11.17,16.95)(10,14.44)(8.5,11.04)(7.3,8.25)(6,5.13)(5,2.56)(4.26,0.56)} -- cycle;
\addplot[band] coordinates {(7.72,0.73)(9.4,1.38)(11.17,2.3)(11.17,1.8)(9.4,1.18)(7.72,0.37)} -- cycle;
% fitted lines
\addplot[cAd, line width=1.2pt] coordinates {(3.7,18.15)(10.7,21.75)};
\addplot[cJu, line width=1.2pt] coordinates {(4.26,1.36)(11.17,17.7)};
\addplot[cHa, line width=1.2pt] coordinates {(7.72,0.55)(11.17,2.05)};
\end{axis}
% ---------------- Legend ----------------
\begin{scope}[x=1pt,y=1pt]
\node[font=\fontsize{9.5}{11}\selectfont\bfseries] at (323.75,-247.5) {Age Group};
\fill[gray!40, rounded corners=12pt] (229.5,-255) rectangle (418.5,-279.5);
\fill[cHa] (238.5,-264) rectangle (250,-271);
\node[anchor=base west, font=\fontsize{9}{10}\selectfont, inner sep=0pt] at (255.5,-270.7) {Hatchling};
\fill[cJu] (306.5,-264) rectangle (318.5,-271);
\node[anchor=base west, font=\fontsize{9}{10}\selectfont, inner sep=0pt] at (324,-270.7) {Juvenile};
\fill[cAd] (369,-264) rectangle (381,-271);
\node[anchor=base west, font=\fontsize{9}{10}\selectfont, inner sep=0pt] at (386.5,-270.7) {Adult};
\end{scope}
\end{tikzpicture}
\end{document}
